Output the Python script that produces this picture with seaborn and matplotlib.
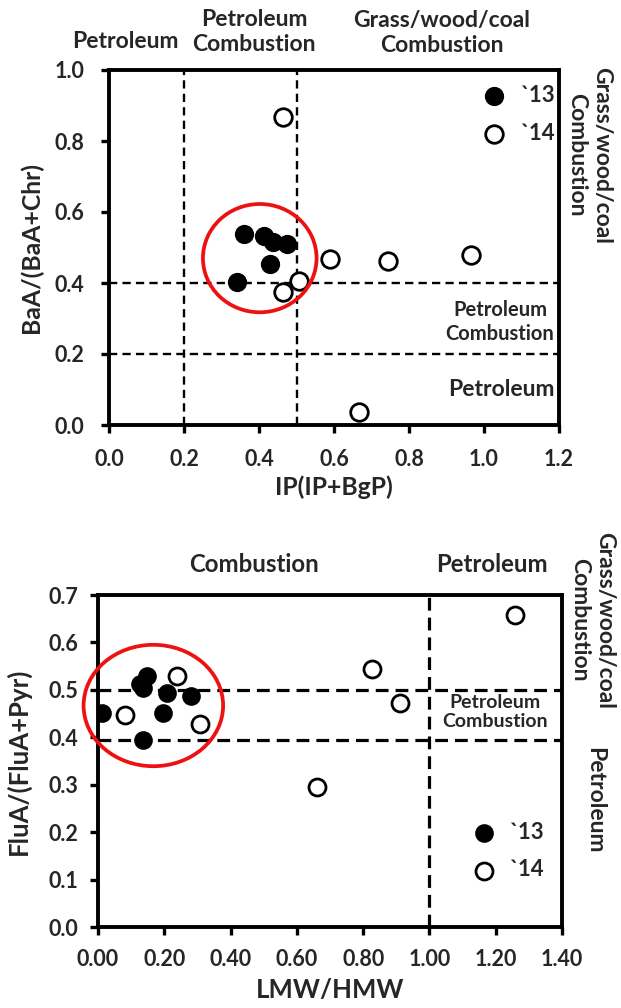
import numpy as np
import pandas as pd
import matplotlib
matplotlib.use("Agg")
import matplotlib.pyplot as plt
import seaborn as sns
from matplotlib.patches import Ellipse

# ---------------- data ----------------
# Top panel: IP/(IP+BgP) vs BaA/(BaA+Chr)
top13_x = [0.360, 0.414, 0.436, 0.474, 0.430, 0.340]
top13_y = [0.538, 0.533, 0.516, 0.510, 0.453, 0.404]
top14_x = [0.465, 0.507, 0.465, 0.590, 0.743, 0.964, 0.666]
top14_y = [0.868, 0.406, 0.376, 0.469, 0.461, 0.479, 0.036]

# Bottom panel: LMW/HMW vs FluA/(FluA+Pyr)
bot13_x = [0.013, 0.126, 0.147, 0.136, 0.209, 0.280, 0.196, 0.136]
bot13_y = [0.452, 0.513, 0.529, 0.503, 0.493, 0.486, 0.451, 0.394]
bot14_x = [0.081, 0.239, 0.307, 0.662, 0.826, 0.911, 1.257]
bot14_y = [0.448, 0.530, 0.427, 0.296, 0.545, 0.473, 0.657]

series_labels = ["`13", "`14"]
top_xticks = [0.0, 0.2, 0.4, 0.6, 0.8, 1.0, 1.2]
top_yticks = [0.0, 0.2, 0.4, 0.6, 0.8, 1.0]
bot_xticks = [0.0, 0.2, 0.4, 0.6, 0.8, 1.0, 1.2, 1.4]
bot_yticks = [0.0, 0.1, 0.2, 0.3, 0.4, 0.5, 0.6, 0.7]

top_vlines = [0.2, 0.5]
top_hlines = [0.4, 0.2]
bot_vlines = [1.0]
bot_hlines = [0.5, 0.395]

# ---------------- style ----------------
sns.set_theme(style="white")
plt.rcParams["font.family"] = ["Lato", "DejaVu Sans"]
plt.rcParams["font.weight"] = "bold"
plt.rcParams["axes.labelweight"] = "bold"

W, H = 621, 1008
fig = plt.figure(figsize=(W / 100, H / 100), dpi=100)

def px_axes(l, t, r, b):
    return fig.add_axes([l / W, 1 - b / H, (r - l) / W, (b - t) / H])

ax1 = px_axes(109, 70, 559, 425)
ax2 = px_axes(98, 595, 562, 927)

def make_df(x13, y13, x14, y14):
    return pd.DataFrame({
        "x": list(x13) + list(x14),
        "y": list(y13) + list(y14),
        "year": [series_labels[0]] * len(x13) + [series_labels[1]] * len(x14),
    })

def draw(ax, df, ms):
    d13 = df[df.year == series_labels[0]]
    d14 = df[df.year == series_labels[1]]
    sns.scatterplot(data=d13, x="x", y="y", ax=ax, s=ms, color="black",
                    edgecolor="black", linewidth=1.2, label=series_labels[0], zorder=5)
    sns.scatterplot(data=d14, x="x", y="y", ax=ax, s=ms, facecolor="white",
                    edgecolor="black", linewidth=2.0, label=series_labels[1], zorder=5)

def style_axes(ax, xpad, ypad):
    for sp in ax.spines.values():
        sp.set_linewidth(2.8)
        sp.set_color("black")
    ax.tick_params(axis="both", which="major", direction="out", length=6, width=2.4,
                   color="black", labelsize=15.5, left=True, bottom=True)
    ax.tick_params(axis="x", pad=xpad)
    ax.tick_params(axis="y", pad=ypad)
    for lab in ax.get_xticklabels() + ax.get_yticklabels():
        lab.set_fontweight("bold")

def ftext(x, y, s, size, rot=0, ls=1.25):
    fig.text(x / W, 1 - y / H, s, ha="center", va="center", fontsize=size,
             fontweight="bold", rotation=rot, linespacing=ls, multialignment="center")

# ---------- top panel ----------
df1 = make_df(top13_x, top13_y, top14_x, top14_y)
draw(ax1, df1, 160)
for v in top_vlines:
    ax1.axvline(v, color="black", lw=1.7, ls=(0, (3.5, 2.2)), zorder=2)
for h in top_hlines:
    ax1.axhline(h, color="black", lw=1.7, ls=(0, (3.5, 2.2)), zorder=2)
ax1.add_patch(Ellipse((0.402, 0.470), 0.303, 0.305, fill=False, edgecolor="#ee1111",
                      lw=2.7, zorder=6))
ax1.set_xlim(0, 1.2)
ax1.set_ylim(0, 1.0)
ax1.set_xticks(top_xticks)
ax1.set_yticks(top_yticks)
ax1.set_xticklabels([f"{t:.1f}" for t in top_xticks])
ax1.set_yticklabels([f"{t:.1f}" for t in top_yticks])
ax1.set_xlabel("IP(IP+BgP)", fontsize=17.8, fontweight="bold")
ax1.set_ylabel("BaA/(BaA+Chr)", fontsize=17.8, fontweight="bold")
ax1.xaxis.set_label_coords(0.5, -0.175)
ax1.xaxis.label.set_va("center")
ax1.yaxis.set_label_coords(-0.172, 0.5)
ax1.yaxis.label.set_va("center")
style_axes(ax1, 11, 12)
leg1 = ax1.legend(loc="upper right", bbox_to_anchor=(1.02, 0.995), frameon=False,
                  fontsize=16, handletextpad=0.15, labelspacing=0.75, borderaxespad=0.2,
                  markerscale=1.0)
for t in leg1.get_texts():
    t.set_fontweight("bold")

ftext(125, 41, "Petroleum", 16.5)
ftext(254, 32, "Petroleum\nCombustion", 16.5, ls=1.2)
ftext(442, 33, "Grass/wood/coal\nCombustion", 16.5, ls=1.2)
ftext(589, 155, "Grass/wood/coal\nCombustion", 16.5, rot=-90, ls=1.2)
ftext(500, 322, "Petroleum\nCombustion", 14.5, ls=1.25)
ftext(501, 390, "Petroleum", 16.5)

# ---------- bottom panel ----------
df2 = make_df(bot13_x, bot13_y, bot14_x, bot14_y)
draw(ax2, df2, 150)
for v in bot_vlines:
    ax2.axvline(v, color="black", lw=2.3, ls=(0, (4, 2.2)), zorder=2)
for h in bot_hlines:
    ax2.axhline(h, color="black", lw=2.3, ls=(0, (4, 2.2)), zorder=2)
ax2.add_patch(Ellipse((0.167, 0.467), 0.421, 0.256, fill=False, edgecolor="#ee1111",
                      lw=2.7, zorder=6, clip_on=False))
ax2.set_xlim(0, 1.4)
ax2.set_ylim(0, 0.7)
ax2.set_xticks(bot_xticks)
ax2.set_yticks(bot_yticks)
ax2.set_xticklabels([f"{t:.2f}" for t in bot_xticks])
ax2.set_yticklabels([f"{t:.1f}" for t in bot_yticks])
ax2.set_xlabel("LMW/HMW", fontsize=18.5, fontweight="bold")
ax2.set_ylabel("FluA/(FluA+Pyr)", fontsize=18.5, fontweight="bold")
ax2.xaxis.set_label_coords(0.5, -0.19)
ax2.xaxis.label.set_va("center")
ax2.yaxis.set_label_coords(-0.172, 0.5)
ax2.yaxis.label.set_va("center")
style_axes(ax2, 10, 8)
leg2 = ax2.legend(loc="lower right", bbox_to_anchor=(0.99, 0.10), frameon=False,
                  fontsize=16, handletextpad=0.15, labelspacing=0.75, borderaxespad=0.2,
                  markerscale=1.0)
for t in leg2.get_texts():
    t.set_fontweight("bold")

ftext(254, 564, "Combustion", 17.3)
ftext(492, 564, "Petroleum", 17.3)
ftext(592, 620, "Grass/wood/coal\nCombustion", 16.5, rot=-90, ls=1.2)
ftext(595, 800, "Petroleum", 16.5, rot=-90)
ftext(495, 712, "Petroleum\nCombustion", 14, ls=1.2)

fig.savefig("out.png", dpi=100)
